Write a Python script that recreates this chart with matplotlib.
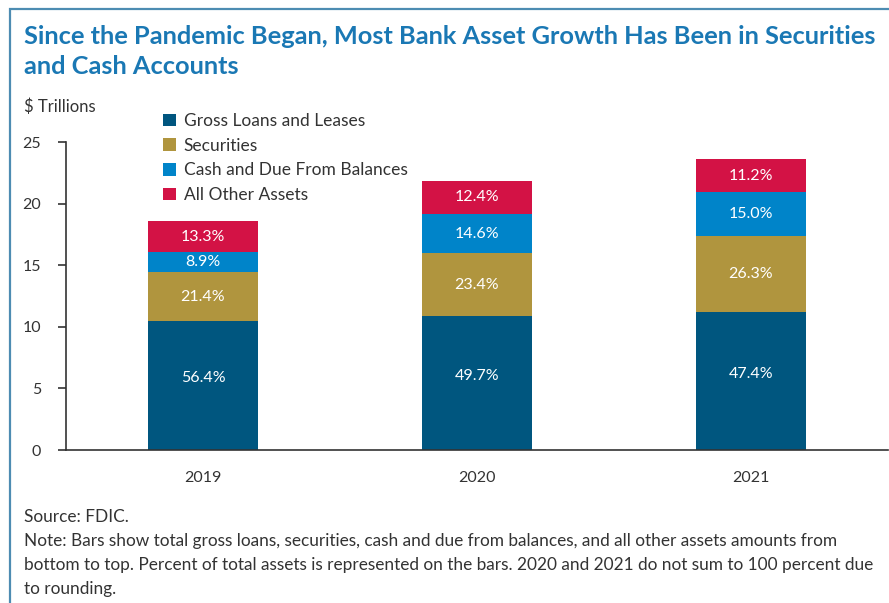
import matplotlib
matplotlib.use("Agg")
import matplotlib.pyplot as plt
from matplotlib.patches import Rectangle, Patch
import numpy as np

years = ["2019", "2020", "2021"]
series_names = ["Gross Loans and Leases", "Securities", "Cash and Due From Balances", "All Other Assets"]
loans = [10.47, 10.85, 11.19]
securities = [3.97, 5.11, 6.21]
cash = [1.65, 3.19, 3.54]
other = [2.47, 2.71, 2.64]
pct_loans = ["56.4%", "49.7%", "47.4%"]
pct_securities = ["21.4%", "23.4%", "26.3%"]
pct_cash = ["8.9%", "14.6%", "15.0%"]
pct_other = ["13.3%", "12.4%", "11.2%"]
yticks = [0, 5, 10, 15, 20, 25]

colors = ["#00567f", "#b0953e", "#0084c9", "#d31245"]
FONT = ["Lato", "DejaVu Sans"]
plt.rcParams['font.family'] = FONT
text_color = "#333333"

W, H = 889, 603
fig = plt.figure(figsize=(W/100, H/100), dpi=100)

def fx(px): return px / W
def fy(py): return 1 - py / H

ax = fig.add_axes([fx(66), fy(450), fx(888) - fx(66), fy(142) - fy(450)])
x = np.arange(len(years))
width = 0.4
bottom = np.zeros(len(years))
all_vals = [loans, securities, cash, other]
all_pcts = [pct_loans, pct_securities, pct_cash, pct_other]
for k, (vals, pcts, c) in enumerate(zip(all_vals, all_pcts, colors)):
    vals = np.array(vals)
    ax.bar(x, vals, width, bottom=bottom, color=c, zorder=2)
    for xi, b, v, p in zip(x, bottom, vals, pcts):
        ypos = b + v / 2 + (0.6 if k == 0 else 0)
        ax.text(xi, ypos, p, ha="center", va="center", color="white", fontsize=11.5)
    bottom = bottom + vals

ax.set_xlim(-0.5, 2.5)
ax.set_ylim(0, 25)
ax.set_yticks(yticks)
ax.set_xticks(x)
ax.set_xticklabels(years)
for s in ["top", "right"]:
    ax.spines[s].set_visible(False)
ax.spines["left"].set_color("#333333")
ax.spines["bottom"].set_color("#333333")
ax.spines["left"].set_linewidth(1.2)
ax.spines["bottom"].set_linewidth(1.2)
ax.tick_params(axis="y", length=6, width=1.2, color="#333333", labelsize=11.5, labelcolor=text_color, pad=12)
ax.tick_params(axis="x", length=0, labelsize=11.5, labelcolor=text_color, pad=15)

handles = [Patch(facecolor=c, edgecolor="none") for c in colors]
leg = ax.legend(handles, series_names, loc="upper left", bbox_to_anchor=(fx(163), fy(113)),
                bbox_transform=fig.transFigure, frameon=False, fontsize=12.5,
                handlelength=0.75, handleheight=0.75, handletextpad=0.45,
                labelspacing=0.5, borderaxespad=0, borderpad=0)
for t in leg.get_texts():
    t.set_color(text_color)

title_color = "#1a78b4"
fig.text(fx(24), fy(36), "Since the Pandemic Began, Most Bank Asset Growth Has Been in Securities",
         fontsize=18.3, fontweight="bold", color=title_color, va="center", ha="left")
fig.text(fx(24), fy(66), "and Cash Accounts",
         fontsize=18.3, fontweight="bold", color=title_color, va="center", ha="left")
fig.text(fx(24), fy(107), "$ Trillions", fontsize=12, color=text_color, va="center", ha="left")

notes = ["Source: FDIC.",
         "Note: Bars show total gross loans, securities, cash and due from balances, and all other assets amounts from",
         "bottom to top. Percent of total assets is represented on the bars. 2020 and 2021 do not sum to 100 percent due",
         "to rounding."]
for i, line in enumerate(notes):
    fig.text(fx(24), fy(517 + 24 * i), line, fontsize=12.4, color=text_color, va="center", ha="left")

fig.patches.append(Rectangle((fx(10), fy(H + 20)), 1.2, fy(9) - fy(H + 20), transform=fig.transFigure,
                             fill=False, edgecolor="#4d8cb2", linewidth=1.6, figure=fig))

fig.savefig("out.png", dpi=100)
